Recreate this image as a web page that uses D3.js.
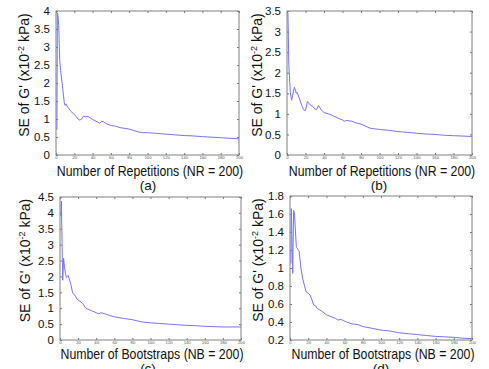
<!DOCTYPE html>
<html><head><meta charset="utf-8">
<script src="https://cdn.jsdelivr.net/npm/d3@7"></script>
<style>body{margin:0;background:#fff}svg{display:block;font-family:"Liberation Sans",Arial,sans-serif}</style>
</head><body><svg id="c" width="489" height="369"></svg>
<script>
// ---- data ----
const xTicks = [0,20,40,60,80,100,120,140,160,180,200];
const yTicksA = [0,0.5,1,1.5,2,2.5,3,3.5,4];
const yTicksB = [0,0.5,1,1.5,2,2.5,3,3.5];
const yTicksC = [0,0.5,1,1.5,2,2.5,3,3.5,4,4.5];
const yTicksD = [0.2,0.4,0.6,0.8,1,1.2,1.4,1.6,1.8];

const xA = [1,1.5,2,3,4,5,7,9,10,11,12,13,15,17,20,22,24,26,28,30,32,35,38,40,45,48,50,52,55,60,65,70,80,90,95,100,110,120,130,140,150,160,180,200];
const yA = [0.7,3.95,3.9,3.6,2.65,2.35,1.93,1.46,1.38,1.42,1.36,1.33,1.25,1.2,1.12,1.07,1.0,0.97,1.0,1.08,1.06,1.07,1.02,0.99,0.92,0.88,0.94,0.92,0.87,0.82,0.8,0.76,0.72,0.64,0.62,0.62,0.6,0.58,0.56,0.54,0.53,0.51,0.48,0.45];

const xB = [1,2,3.6,5,8,10,11,13,16,18,20,22,25,28,30,32,34,37,40,45,50,55,60,62,64,70,75,80,85,90,100,110,120,125,130,140,150,160,170,180,200];
const yB = [3.45,2.17,1.52,1.33,1.65,1.5,1.52,1.4,1.2,1.1,1.08,1.3,1.22,1.18,1.12,1.1,1.2,1.1,1.03,1.0,0.95,0.9,0.85,0.82,0.84,0.82,0.78,0.75,0.7,0.65,0.62,0.6,0.57,0.56,0.55,0.53,0.51,0.5,0.48,0.47,0.45];

const xC = [1,1.5,3,4,5,6,7,8,9,10,12,14,16,17,19,22,25,28,30,35,40,43,45,50,55,60,70,80,90,100,110,120,130,140,150,160,170,180,190,200];
const yC = [3.9,4.37,1.88,2.57,2.3,2.1,1.97,2.0,2.03,1.95,1.75,1.48,1.42,1.38,1.28,1.22,1.15,1.02,0.98,0.92,0.86,0.82,0.86,0.82,0.77,0.73,0.68,0.64,0.57,0.54,0.52,0.5,0.48,0.46,0.45,0.43,0.42,0.41,0.41,0.41];

const xD = [1,1.5,3,4,5,6,7,8,9,10,12,14,16,18,20,22,24,26,28,30,35,40,45,50,53,55,58,62,68,75,80,90,100,110,120,130,140,150,160,170,180,190,200];
const yD = [1.05,1.66,0.94,1.64,1.6,1.4,1.23,1.22,1.2,1.19,1.0,0.88,0.8,0.73,0.72,0.7,0.65,0.59,0.58,0.55,0.52,0.48,0.46,0.44,0.42,0.43,0.42,0.4,0.38,0.37,0.35,0.33,0.31,0.3,0.28,0.27,0.26,0.25,0.24,0.235,0.23,0.22,0.215];

const xLabels = ["Number of Repetitions (NR = 200)","Number of Repetitions (NR = 200)","Number of Bootstraps (NB = 200)","Number of Bootstraps (NB = 200)"];
const captions = ["(a)","(b)","(c)","(d)"];

// ---- layout ----
const panels = [
  {x0:56,x1:239,y0:11,y1:155,dom:[0,4],yt:yTicksA,xs:xA,ys:yA,ylx:29,xlc:150,xlb:176,cap:[148,190]},
  {x0:287,x1:472,y0:11,y1:155,dom:[0,3.5],yt:yTicksB,xs:xB,ys:yB,ylx:262,xlc:382,xlb:176,cap:[379,190]},
  {x0:60,x1:241,y0:197,y1:340,dom:[0,4.5],yt:yTicksC,xs:xC,ys:yC,ylx:30,xlc:152,xlb:359,cap:[148,373]},
  {x0:290,x1:472,y0:196,y1:340,dom:[0.2,1.8],yt:yTicksD,xs:xD,ys:yD,ylx:263,xlc:383,xlb:359,cap:[381,373]}
];

const svg = d3.select("#c");
panels.forEach((p,i)=>{
  const x = d3.scaleLinear().domain([0,200]).range([p.x0,p.x1]);
  const y = d3.scaleLinear().domain(p.dom).range([p.y1,p.y0]);
  const g = svg.append("g");
  const tl = 2;
  const axB = d3.axisBottom(x).tickValues(xTicks).tickSize(-tl).tickPadding(1.5).tickFormat(d3.format("d"));
  const axT = d3.axisTop(x).tickValues(xTicks).tickSize(-tl).tickFormat("");
  const axL = d3.axisLeft(y).tickValues(p.yt).tickSize(-tl).tickPadding(6).tickFormat(d=>d3.format("")(+d.toFixed(1)));
  const axR = d3.axisRight(y).tickValues(p.yt).tickSize(-tl).tickFormat("");
  const gb = g.append("g").attr("transform",`translate(0,${p.y1})`).call(axB);
  const gt = g.append("g").attr("transform",`translate(0,${p.y0})`).call(axT);
  const gl = g.append("g").attr("transform",`translate(${p.x0},0)`).call(axL);
  const gr = g.append("g").attr("transform",`translate(${p.x1},0)`).call(axR);
  [gb,gt,gl,gr].forEach(a=>{a.select(".domain").remove();a.selectAll("line").attr("stroke","#777");});
  gb.selectAll("text").attr("font-size",4.2).attr("fill","#555").attr("font-family","Liberation Sans, Arial, sans-serif");
  gl.selectAll("text").attr("font-size",11.5).attr("fill","#111").attr("font-family","Liberation Sans, Arial, sans-serif");
  // frame
  g.append("rect").attr("x",p.x0).attr("y",p.y0).attr("width",p.x1-p.x0).attr("height",p.y1-p.y0)
    .attr("fill","none").attr("stroke","#808080").attr("stroke-width",1);
  // line
  const line = d3.line().x((d,j)=>x(p.xs[j])).y(d=>y(d));
  g.append("path").datum(p.ys).attr("d",line).attr("fill","none").attr("stroke","#7474ff").attr("stroke-width",1);
  // x label (slightly condensed like the reference)
  g.append("text").attr("transform",`translate(${p.xlc},${p.xlb}) scale(0.88,1)`).attr("text-anchor","middle")
    .attr("font-size",14).attr("fill","#111").text(xLabels[i]);
  // y label
  const cy = (p.y0+p.y1)/2 - 8;
  const t = g.append("text").attr("transform",`translate(${p.ylx},${cy}) rotate(-90)`).attr("text-anchor","middle")
    .attr("font-size",14).attr("fill","#111");
  t.append("tspan").text("SE of G' (x10");
  t.append("tspan").attr("dy",-5).attr("font-size",9).text("-2");
  t.append("tspan").attr("dy",5).text(" kPa)");
  // caption
  g.append("text").attr("x",p.cap[0]).attr("y",p.cap[1]).attr("text-anchor","middle").attr("font-size",13.5).attr("fill","#111").text(captions[i]);
});
</script></body></html>
